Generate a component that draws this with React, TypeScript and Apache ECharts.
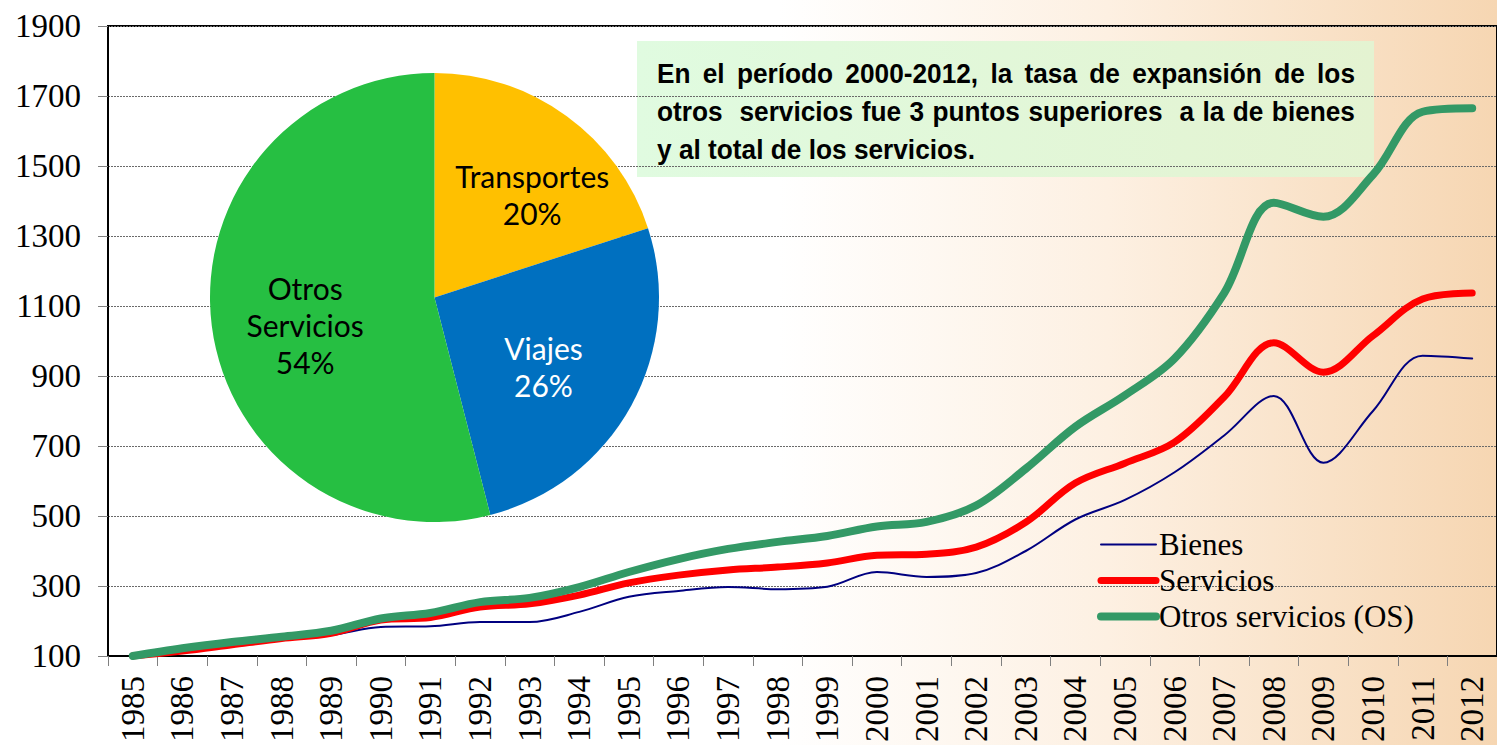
import React, { useEffect, useRef } from "react";
import * as echarts from "echarts";

const years = ["1985","1986","1987","1988","1989","1990","1991","1992","1993","1994","1995","1996","1997","1998","1999","2000","2001","2002","2003","2004","2005","2006","2007","2008","2009","2010","2011","2012"];
const bienes = [100,112,130,150,160,183,185,197,197,226,269,286,297,291,298,340,326,337,400,490,546,625,730,843,652,800,958,950];
const servicios = [100,114,132,150,165,203,210,240,249,274,309,331,346,354,366,388,391,411,482,594,651,711,840,995,911,1015,1120,1137];
const otrosServicios = [100,122,140,155,172,207,223,254,266,297,340,377,406,426,443,470,483,530,635,755,845,950,1137,1395,1355,1475,1655,1665];
const seriesNames = ["Bienes", "Servicios", "Otros servicios (OS)"];
const pieNames = ["Transportes", "Viajes", "Otros Servicios"];
const pieValues = [20, 26, 54];
const yTicks = { min: 100, max: 1900, interval: 200 };
const noteLines = [
  "En el período 2000-2012, la tasa de expansión de los",
  "otros  servicios fue 3 puntos superiores  a la de bienes",
  "y al total de los servicios.",
];

function buildNote(): any[] {
  const font = 'bold 28px "Liberation Sans", Arial, sans-serif';
  const c = document.createElement("canvas").getContext("2d")!;
  c.font = font;
  const k = 318 / c.measureText(noteLines[2]).width;
  const left = 657;
  const full = 698;
  const ys = [73, 111, 149];
  const els: any[] = [];
  noteLines.forEach((line, li) => {
    const toks = line.split(" ");
    const justify = li < 2;
    const widths = toks.map((t) => (t ? c.measureText(t).width * k : 0));
    const sum = widths.reduce((a, b) => a + b, 0);
    const gap = justify ? (full - sum) / (toks.length - 1) : c.measureText(" ").width * k;
    let x = left;
    toks.forEach((t, i) => {
      if (t) {
        els.push({
          type: "text",
          x,
          y: ys[li],
          scaleX: k,
          z: 20,
          style: { text: t, font, fill: "#000", align: "left", verticalAlign: "middle" },
        });
      }
      x += widths[i] + gap;
    });
  });
  return els;
}

export default function App() {
  const ref = useRef<HTMLDivElement>(null);
  useEffect(() => {
    const chart = echarts.init(ref.current!, undefined, { renderer: "svg" });
    const serif = '"Liberation Serif", "Times New Roman", serif';
    const pieOffsets = [
      [30, -10],
      [8, 13],
      [-15, 13],
    ];
    chart.setOption({
      animation: false,
      backgroundColor: "transparent",
      graphic: [
        {
          type: "rect",
          z: -30,
          shape: { x: 0, y: 0, width: 1497, height: 745 },
          style: {
            fill: new echarts.graphic.LinearGradient(0, 0, 1, 0, [
              { offset: 0, color: "#ffffff" },
              { offset: 0.52, color: "#ffffff" },
              { offset: 0.74, color: "#fdf0e2" },
              { offset: 1, color: "#f6d6b2" },
            ]),
          },
          silent: true,
        },
        {
          type: "rect",
          z: -20,
          shape: { x: 637, y: 41, width: 737, height: 136 },
          style: {
            fill: new echarts.graphic.LinearGradient(0, 0, 1, 0, [
              { offset: 0, color: "#e0fbe0" },
              { offset: 1, color: "#e4f3d1" },
            ]),
          },
          silent: true,
        },
        ...buildNote(),
      ],
      grid: {
        left: 108,
        top: 26,
        width: 1400,
        height: 630,
        show: true,
        borderColor: "#000",
        borderWidth: 2,
        backgroundColor: "transparent",
      },
      legend: {
        orient: "vertical",
        left: 1097,
        top: 529,
        padding: 0,
        itemWidth: 55,
        itemHeight: 14,
        itemGap: 5,
        data: seriesNames,
        itemStyle: { opacity: 0 },
        lineStyle: { width: "inherit", cap: "round" },
        textStyle: { fontFamily: serif, fontSize: 31, color: "#000", padding: [0, 0, 0, -2] },
      },
      xAxis: {
        type: "category",
        data: years,
        boundaryGap: true,
        axisLine: { lineStyle: { color: "#000", width: 2 } },
        axisTick: { show: true, length: 10, lineStyle: { color: "#808080", width: 1 } },
        axisLabel: { rotate: 90, margin: 20, fontFamily: serif, fontSize: 33, color: "#000", interval: 0 },
        splitLine: { show: false },
      },
      yAxis: {
        type: "value",
        min: yTicks.min,
        max: yTicks.max,
        interval: yTicks.interval,
        axisLine: { show: true, lineStyle: { color: "#000", width: 2 } },
        axisTick: { show: true, length: 10, lineStyle: { color: "#808080", width: 1 } },
        axisLabel: { margin: 27, fontFamily: serif, fontSize: 33, color: "#000", formatter: (v: number) => String(v) },
        splitLine: { show: true, lineStyle: { color: "#6a6a6a", type: [2, 1], width: 1 } },
      },
      series: [
        {
          name: seriesNames[0],
          type: "line",
          data: bienes,
          smooth: 0.35,
          symbol: "none",
          lineStyle: { color: "#000080", width: 2, cap: "round" },
          itemStyle: { color: "#000080" },
          z: 3,
        },
        {
          name: seriesNames[1],
          type: "line",
          data: servicios,
          smooth: 0.35,
          symbol: "none",
          lineStyle: { color: "#ff0000", width: 7, cap: "round" },
          itemStyle: { color: "#ff0000" },
          z: 4,
        },
        {
          name: seriesNames[2],
          type: "line",
          data: otrosServicios,
          smooth: 0.35,
          symbol: "none",
          lineStyle: { color: "#339966", width: 8, cap: "round" },
          itemStyle: { color: "#339966" },
          z: 5,
        },
        {
          name: "pie",
          type: "pie",
          center: [434.5, 297.5],
          radius: 224.5,
          startAngle: 90,
          clockwise: true,
          z: 6,
          data: pieNames.map((n, i) => ({
            name: n,
            value: pieValues[i],
            itemStyle: { color: ["#ffc000", "#0070c0", "#26bf42"][i] },
            label: { color: i === 1 ? "#fff" : "#000" },
          })),
          label: {
            show: true,
            position: "inside",
            fontFamily: "Lato, sans-serif",
            fontSize: 30,
            lineHeight: 37,
            align: "center",
            formatter: (p: any) => p.name.replace(" ", "\n") + "\n" + p.value + "%",
          },
          labelLayout: (p: any) => ({ dx: pieOffsets[p.dataIndex][0], dy: pieOffsets[p.dataIndex][1] }),
          labelLine: { show: false },
          emphasis: { disabled: true },
        },
      ],
    });
    return () => chart.dispose();
  }, []);
  return <div ref={ref} style={{ position: "absolute", left: 0, top: 0, width: 1497, height: 745 }} />;
}
